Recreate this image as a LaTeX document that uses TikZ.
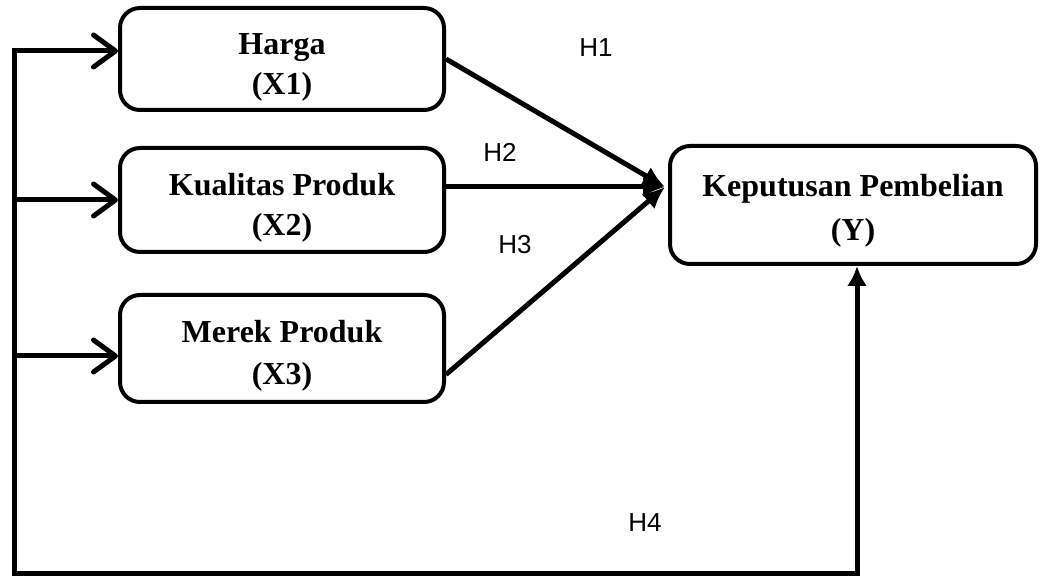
\documentclass[tikz,border=0pt]{standalone}
\usepackage{fontspec}
\setmainfont{Liberation Serif}
\newfontfamily\hypfont{Liberation Sans}
\usetikzlibrary{arrows.meta,positioning,calc}
\newcommand{\liftline}[1]{\rule{0pt}{#1}}
\tikzset{
  varbox/.style={draw,line width=2pt,rounded corners=10pt,align=center,
    minimum width=162pt,minimum height=51pt,font=\fontsize{16}{20}\selectfont\bfseries},
  resultbox/.style={varbox,minimum width=183pt,minimum height=59pt},
  busline/.style={line width=2.5pt,line cap=rect},
  inarrow/.style={-{Straight Barb[length=11pt,width=16pt,round]},line width=2.5pt},
  hyparrow/.style={-{Latex[length=11pt,width=10pt]},line width=2.5pt},
  hyplabel/.style={font=\hypfont\fontsize{13}{15}\selectfont}
}
\begin{document}
\begin{tikzpicture}[x=0.5pt,y=-0.5pt,node distance=17pt and 111pt]
  \useasboundingbox (0,0) rectangle (1042,576);
  \node[varbox] (x1) at (282,59) {\liftline{19pt}Harga\\(X1)};
  \node[varbox,below=of x1,minimum height=52pt] (x2) {\liftline{19pt}Kualitas Produk\\(X2)};
  \node[varbox,below=19.5pt of x2,minimum height=53.5pt] (x3) {\liftline{18pt}Merek Produk\\[1pt](X3)};
  \node[resultbox,right=of x2,yshift=-2.5pt] (y) {\liftline{17pt}Keputusan Pembelian\\[2pt](Y)};
  % left bus to the three inputs and to Y
  \coordinate (bus1) at (14,51);
  \coordinate (bus2) at (14,200);
  \coordinate (bus3) at (14,356);
  \coordinate (busend) at (14,573);
  \draw[busline,-{Latex[length=10pt,width=10pt]}] (bus1) -- (busend) -| ([xshift=2pt]y.south);
  \draw[inarrow] (bus1) -- (bus1 -| x1.west);
  \draw[inarrow] (bus2) -- (bus2 -| x2.west);
  \draw[inarrow] (bus3) -- (bus3 -| x3.west);
  % hypotheses
  \coordinate (tip) at ($(y.west)+(-3,-18)$);
  \draw[hyparrow] (x1.east) -- (tip);
  \draw[hyparrow] (x2.east |- tip) -- (tip);
  \draw[hyparrow] ([yshift=-13pt]x3.east) -- (tip);
  \node[hyplabel] (h1) at (596,48) {H1};
  \node[hyplabel] (h2) at (500,152) {H2};
  \node[hyplabel] (h3) at (515,245) {H3};
  \node[hyplabel] (h4) at (645,523) {H4};
\end{tikzpicture}
\end{document}
